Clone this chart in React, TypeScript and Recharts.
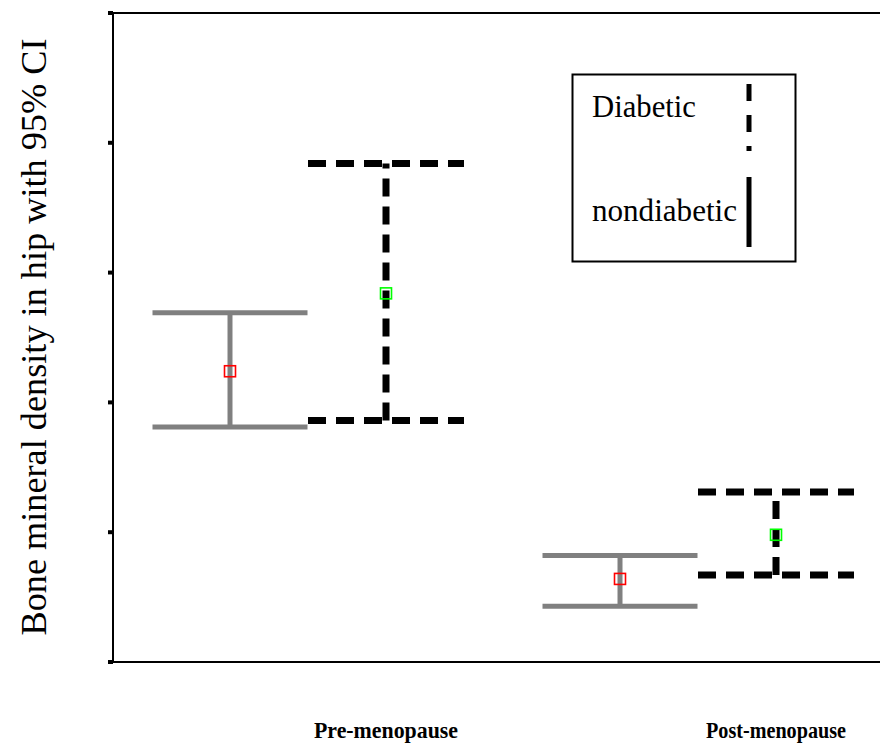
import React from 'react';
import { ScatterChart, Scatter, XAxis, YAxis, ErrorBar, ReferenceLine, Legend } from 'recharts';

const categories = ['Pre-menopause', 'Post-menopause'];
const groupCenters = [1, 3];
const nondiabeticMean = [2.24, 0.64];
const nondiabeticLower = [1.81, 0.43];
const nondiabeticUpper = [2.69, 0.82];
const diabeticMean = [2.84, 0.98];
const diabeticLower = [1.86, 0.67];
const diabeticUpper = [3.84, 1.31];
const yTicks = [0, 1, 2, 3, 4, 5];
const xTicks = [1.4, 3.4];

const build = (mean: number[], lower: number[], upper: number[], offset: number) =>
  mean.map((m, i) => ({ x: groupCenters[i] + offset, y: m, err: [m - lower[i], upper[i] - m] }));

const nondiabeticData = build(nondiabeticMean, nondiabeticLower, nondiabeticUpper, -0.4);
const diabeticData = build(diabeticMean, diabeticLower, diabeticUpper, 0.4);

const SERIF = '"Liberation Serif", "Times New Roman", serif';

const RedSquare = (p: any) => (
  <rect x={p.cx - 5.5} y={p.cy - 5.5} width={11} height={11} fill="none" stroke="#ff0000" strokeWidth={1.6} />
);
const GreenSquare = (p: any) => (
  <rect x={p.cx - 5.5} y={p.cy - 5.5} width={11} height={11} fill="none" stroke="#00ff00" strokeWidth={1.6} />
);

const tickWidths = [144, 140];

const XTick = (p: any) => (
  <text
    x={p.x}
    y={738}
    textAnchor="middle"
    fontFamily={SERIF}
    fontWeight="bold"
    fontSize={24}
    fill="#000"
    textLength={tickWidths[p.index]}
    lengthAdjust="spacingAndGlyphs"
  >
    {categories[p.index]}
  </text>
);

const YLabel = () => (
  <text
    transform="translate(46,337) rotate(-90)"
    textAnchor="middle"
    fontFamily={SERIF}
    fontSize={36}
    fill="#000"
    textLength={597}
    lengthAdjust="spacingAndGlyphs"
  >
    Bone mineral density in hip with 95% CI
  </text>
);

const legendWidths: Record<string, number> = { Diabetic: 104, nondiabetic: 145 };

const LegendBox = (props: any) => {
  const payload = (props.payload || []).slice().sort((a: any) => (a.value === 'Diabetic' ? -1 : 1));
  return (
    <svg width={226} height={190} style={{ display: 'block' }}>
      <rect x={1.5} y={1.5} width={223} height={187} fill="#fff" stroke="#000" strokeWidth={2} />
      {payload.map((entry: any, i: number) => {
        const dashed = entry.value === 'Diabetic';
        return (
          <g key={entry.value}>
            <text
              x={21}
              y={i === 0 ? 44 : 148}
              fontFamily={SERIF}
              fontSize={32}
              fill="#000"
              textLength={legendWidths[entry.value]}
              lengthAdjust="spacingAndGlyphs"
            >
              {entry.value}
            </text>
            {dashed ? (
              <line x1={178} y1={11} x2={178} y2={78} stroke="#000" strokeWidth={5} strokeDasharray="17 14" />
            ) : (
              <line x1={178} y1={104} x2={178} y2={174} stroke="#000" strokeWidth={5} />
            )}
          </g>
        );
      })}
    </svg>
  );
};

export default function App() {
  return (
    <div style={{ position: 'absolute', left: 0, top: 0, width: 880, height: 744, background: '#fff' }}>
      <ScatterChart width={880} height={744} margin={{ top: 13, right: 0, bottom: 0, left: 53 }}>
        <XAxis
          type="number"
          dataKey="x"
          domain={[0, 3.9333]}
          ticks={xTicks}
          tick={<XTick />}
          tickLine={false}
          axisLine={{ stroke: '#000', strokeWidth: 2 }}
          height={82}
          interval={0}
          allowDataOverflow
        />
        <YAxis
          type="number"
          dataKey="y"
          domain={[0, 5]}
          ticks={yTicks}
          width={60}
          tickSize={5}
          tickFormatter={() => ''}
          tickLine={{ stroke: '#000', strokeWidth: 4 }}
          axisLine={{ stroke: '#000', strokeWidth: 2 }}
          label={<YLabel />}
        />
        <ReferenceLine y={5} stroke="#000" strokeWidth={2} />
        <Legend
          layout="vertical"
          align="center"
          verticalAlign="middle"
          content={<LegendBox />}
          wrapperStyle={{ position: 'absolute', left: 571, top: 73, width: 226, height: 190 }}
        />
        <Scatter name="nondiabetic" data={nondiabeticData} shape={<RedSquare />} isAnimationActive={false} legendType="line">
          <ErrorBar dataKey="err" direction="y" width={77.5} stroke="#808080" strokeWidth={5} isAnimationActive={false} />
        </Scatter>
        <Scatter name="Diabetic" data={diabeticData} shape={<GreenSquare />} isAnimationActive={false} legendType="line">
          <ErrorBar dataKey="err" direction="y" width={78} stroke="#000" strokeWidth={7} strokeDasharray="18 10" isAnimationActive={false} />
        </Scatter>
      </ScatterChart>
    </div>
  );
}
